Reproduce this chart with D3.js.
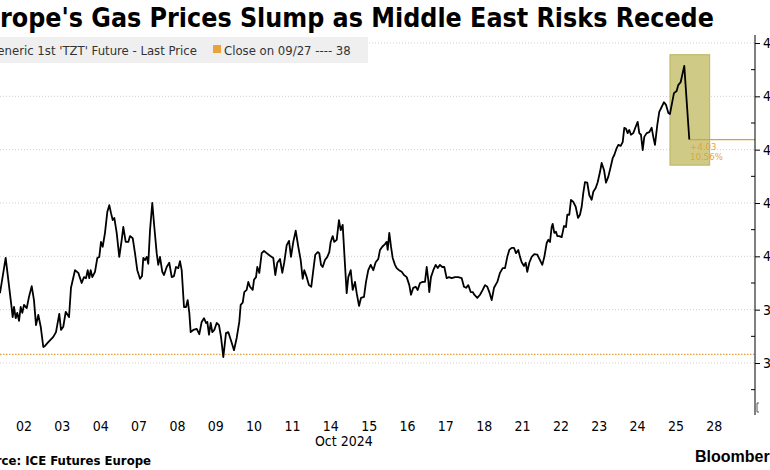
<!DOCTYPE html>
<html><head><meta charset="utf-8">
<script src="https://cdn.jsdelivr.net/npm/d3@7"></script>
<style>body{margin:0;background:#fff;} svg{display:block;}</style>
</head><body><svg id="c" width="770" height="470"></svg>
<script>
const titleText = "Europe's Gas Prices Slump as Middle East Risks Recede";
const seriesName = "Generic 1st 'TZT' Future - Last Price";
const closeLabel = "Close on 09/27 ---- 38";
const sourceText = "Source: ICE Futures Europe";
const brandText = "Bloomberg";
const dayLabels = ["02","03","04","07","08","09","10","11","14","15","16","17","18","21","22","23","24","25","28"];
const monthLabel = "Oct 2024";
const yTickValues = [38,39,40,41,42,43,44];
const yMinorValues = [37.5,38.5,39.5,40.5,41.5,42.5,43.5];
const closePrice = 38.16;
const lastPrice = 42.19;
const changeAbs = "+4.03";
const changePct = "10.56%";
const boxT = [16.844, 17.879];
const boxP = [41.71, 43.78];

// time in trading days (0 = Oct 02 label, 18 = Oct 28 label), price EUR/MWh
const times = [-0.626,-0.478,-0.321,-0.295,-0.261,-0.216,-0.175,-0.130,-0.086,-0.044,0.000,0.071,0.130,0.201,0.260,0.313,0.373,0.436,0.503,0.547,0.633,0.764,0.834,0.920,0.965,1.024,1.088,1.174,1.225,1.330,1.416,1.504,1.564,1.617,1.661,1.703,1.739,1.781,1.851,1.912,1.963,2.008,2.052,2.112,2.172,2.224,2.269,2.313,2.355,2.417,2.484,2.548,2.589,2.652,2.720,2.764,2.835,2.894,2.954,3.025,3.077,3.111,3.155,3.200,3.241,3.286,3.345,3.398,3.460,3.501,3.546,3.606,3.651,3.721,3.788,3.852,3.911,3.963,4.024,4.067,4.112,4.172,4.225,4.268,4.311,4.346,4.415,4.504,4.571,4.633,4.694,4.746,4.780,4.824,4.868,4.910,4.962,5.025,5.084,5.137,5.197,5.267,5.327,5.416,5.476,5.546,5.614,5.650,5.703,5.744,5.806,5.849,5.893,5.964,5.997,6.050,6.083,6.136,6.198,6.258,6.329,6.415,6.500,6.552,6.605,6.675,6.735,6.787,6.850,6.910,6.962,7.022,7.085,7.152,7.215,7.267,7.309,7.372,7.431,7.491,7.544,7.595,7.658,7.700,7.745,7.789,7.848,7.909,7.961,7.997,8.049,8.091,8.154,8.213,8.258,8.310,8.352,8.414,8.456,8.519,8.571,8.631,8.675,8.736,8.787,8.865,8.918,8.977,9.040,9.108,9.170,9.238,9.283,9.342,9.413,9.457,9.484,9.525,9.570,9.614,9.674,9.718,9.779,9.849,9.908,9.979,10.047,10.091,10.150,10.214,10.266,10.326,10.396,10.456,10.501,10.542,10.568,10.612,10.673,10.735,10.788,10.847,10.907,10.960,11.022,11.082,11.153,11.239,11.324,11.413,11.473,11.526,11.585,11.648,11.701,11.742,11.820,11.891,11.961,12.021,12.081,12.133,12.195,12.256,12.342,12.412,12.482,12.543,12.602,12.654,12.717,12.777,12.829,12.889,12.933,12.978,13.037,13.082,13.123,13.176,13.238,13.306,13.385,13.455,13.515,13.568,13.630,13.671,13.716,13.759,13.786,13.828,13.872,13.906,13.958,14.021,14.081,14.133,14.167,14.219,14.263,14.323,14.386,14.446,14.497,14.542,14.584,14.628,14.688,14.740,14.802,14.845,14.907,14.959,15.019,15.063,15.124,15.175,15.235,15.299,15.350,15.392,15.455,15.497,15.559,15.611,15.653,15.698,15.741,15.783,15.827,15.887,15.950,16.002,16.044,16.088,16.133,16.174,16.237,16.305,16.367,16.409,16.453,16.513,16.565,16.627,16.688,16.740,16.800,16.844,16.889,16.948,17.018,17.060,17.124,17.176,17.217,17.348];
const prices = [39.31,39.97,39.03,38.86,39.05,38.84,38.94,38.79,39.05,38.94,39.09,39.03,39.24,39.44,39.18,38.71,38.90,38.68,38.30,38.32,38.39,38.49,38.58,38.92,38.62,38.68,38.96,38.86,39.41,39.74,39.69,39.50,39.61,39.59,39.74,39.59,39.74,39.61,39.71,39.97,39.99,40.27,40.18,40.44,40.83,40.96,40.81,40.68,40.72,40.44,39.99,40.31,40.55,40.27,40.27,40.38,40.34,40.06,39.74,39.58,39.63,39.97,39.93,39.99,39.86,40.49,41.00,40.55,40.06,39.84,39.99,39.71,39.65,39.80,39.88,39.61,39.63,39.80,39.78,39.91,39.74,39.05,39.05,39.18,38.94,38.58,38.62,38.64,38.54,38.77,38.84,38.75,38.77,38.53,38.75,38.58,38.62,38.75,38.71,38.49,38.11,38.56,38.58,38.38,38.24,38.47,38.77,39.09,39.13,39.33,39.37,39.52,39.43,39.37,39.56,39.61,39.80,39.69,40.06,40.10,40.06,40.01,39.97,39.65,39.88,39.95,39.69,39.89,40.21,40.29,39.99,40.27,40.48,40.18,39.93,39.58,39.74,39.61,39.46,39.43,39.74,40.03,40.08,40.06,39.84,39.80,39.93,39.99,40.08,40.27,40.38,40.27,40.31,40.68,40.49,40.59,40.06,39.31,39.61,39.74,39.37,39.52,39.31,39.07,39.22,39.24,39.52,39.74,39.84,39.74,39.89,39.95,40.12,40.18,40.23,40.27,40.12,40.44,40.18,39.97,39.84,39.78,39.74,39.71,39.65,39.61,39.46,39.28,39.41,39.43,39.37,39.50,39.52,39.52,39.80,39.56,39.33,39.61,39.74,39.84,39.78,39.84,39.80,39.80,39.59,39.61,39.59,39.61,39.61,39.59,39.43,39.41,39.46,39.33,39.33,39.28,39.22,39.28,39.37,39.46,39.43,39.33,39.18,39.41,39.52,39.69,39.78,39.78,39.99,40.12,40.16,40.16,40.06,40.12,39.99,39.89,39.82,39.88,39.71,39.88,39.99,40.04,40.03,39.93,39.84,39.99,40.25,40.31,40.27,40.55,40.61,40.44,40.46,40.38,40.38,40.36,40.57,40.55,40.78,40.78,41.06,41.02,40.93,40.72,40.78,40.93,41.19,41.39,41.38,41.15,41.06,41.21,41.28,41.39,41.58,41.75,41.62,41.38,41.49,41.68,41.84,41.90,42.03,42.09,42.07,42.14,42.41,42.39,42.31,42.37,42.28,42.31,42.43,42.52,42.31,42.28,41.99,42.24,42.31,42.33,42.41,42.24,42.09,42.46,42.71,42.80,42.89,42.84,42.69,42.67,42.84,43.06,43.10,43.21,43.27,43.44,43.57,42.19];

const data = times.map((t,i)=>({t, p: prices[i]}));

const svg = d3.select("#c");
const axisX = 755;
const dayPx = 38.35, firstLabelX = 24;
const x = d3.scaleLinear().domain([-firstLabelX/dayPx, (axisX-firstLabelX)/dayPx]).range([0, axisX]);
const y = d3.scaleLinear().domain([38, 44]).range([363, 43]);

const condensed = "'DejaVu Sans Condensed','Liberation Sans Narrow','DejaVu Sans',sans-serif";
const orange = "#e8a33a";

// gridlines
svg.append("g").selectAll("line").data(yTickValues).join("line")
  .attr("x1", 0).attr("x2", axisX).attr("y1", d=>y(d)).attr("y2", d=>y(d))
  .attr("stroke", "#cfcfcf").attr("stroke-width", 1).attr("stroke-dasharray", "1,2");

// close reference line
svg.append("line").attr("x1", 0).attr("x2", axisX)
  .attr("y1", y(closePrice)).attr("y2", y(closePrice))
  .attr("stroke", orange).attr("stroke-width", 1.2).attr("stroke-dasharray", "1.5,1.5");

// highlight box
svg.append("rect")
  .attr("x", x(boxT[0])).attr("width", x(boxT[1]) - x(boxT[0]))
  .attr("y", y(boxP[1])).attr("height", y(boxP[0]) - y(boxP[1]))
  .attr("fill", "#cfca86").attr("stroke", "#b8b35a").attr("stroke-width", 1);

// last price horizontal line
const last = data[data.length-1];
svg.append("line").attr("x1", x(last.t)).attr("x2", axisX)
  .attr("y1", y(lastPrice)).attr("y2", y(lastPrice))
  .attr("stroke", "#e0a030").attr("stroke-width", 1.2);

// change annotation
svg.append("text").attr("x", x(last.t)+1).attr("y", y(lastPrice)+10)
  .attr("font-family", condensed).attr("font-size", 9.5).attr("fill", orange).text(changeAbs);
svg.append("text").attr("x", x(last.t)+1).attr("y", y(lastPrice)+20)
  .attr("font-family", condensed).attr("font-size", 9.5).attr("fill", orange).text(changePct);

// price line
svg.append("path").datum(data)
  .attr("d", d3.line().x(d=>x(d.t)).y(d=>y(d.p)))
  .attr("fill", "none").attr("stroke", "#000").attr("stroke-width", 1.8)
  .attr("stroke-linejoin", "round");

// right axis
const yAxis = d3.axisRight(y).tickValues(yTickValues).tickSize(5).tickPadding(3).tickFormat(d3.format("d"));
const ga = svg.append("g").attr("transform", `translate(${axisX},0)`).call(yAxis);
ga.select(".domain").remove();
ga.selectAll("text").attr("font-family", condensed).attr("font-size", 14).attr("fill", "#000");
ga.selectAll("line").attr("stroke", "#000");
svg.append("line").attr("x1", axisX).attr("x2", axisX).attr("y1", 35).attr("y2", 415)
  .attr("stroke", "#000").attr("stroke-width", 1);
svg.append("g").selectAll("line").data(yMinorValues).join("line")
  .attr("x1", axisX-4).attr("x2", axisX).attr("y1", d=>y(d)).attr("y2", d=>y(d))
  .attr("stroke", "#000");
svg.append("path").attr("d", `M${axisX+4},403 L${axisX+2},403 L${axisX+2},412 L${axisX+4},412`)
  .attr("fill","none").attr("stroke","#555").attr("stroke-width",1);

// x labels
svg.append("g").selectAll("text").data(dayLabels).join("text")
  .attr("x", (d,i)=>x(i)).attr("y", 431).attr("text-anchor", "middle")
  .attr("font-family", condensed).attr("font-size", 14).attr("fill", "#000").text(d=>d);
svg.append("text").attr("x", x(8.34)).attr("y", 446).attr("text-anchor", "middle")
  .attr("font-family", condensed).attr("font-size", 14).attr("fill", "#000").text(monthLabel);

// title fit so that visible part spans 0..714
const title = svg.append("text").attr("y", 27).attr("font-family", condensed)
  .attr("font-weight", "bold").attr("font-size", 24).attr("fill", "#000").text(titleText);
{
  const node = title.node();
  const full = node.getComputedTextLength();
  const cut = node.getSubStringLength(0, 2);
  const k = 714 / (full - cut);
  title.attr("font-size", 24*k).attr("x", -cut*k);
}

// legend
svg.append("rect").attr("x", 0).attr("y", 37).attr("width", 368).attr("height", 26).attr("fill", "#efefef");
svg.append("text").attr("x", 197).attr("y", 55).attr("text-anchor", "end")
  .attr("font-family", condensed).attr("font-size", 13).attr("fill", "#333").text(seriesName);
svg.append("rect").attr("x", 213).attr("y", 45).attr("width", 8).attr("height", 8).attr("fill", orange);
svg.append("text").attr("x", 224).attr("y", 55)
  .attr("font-family", condensed).attr("font-size", 13).attr("fill", "#333").text(closeLabel);

// footer
svg.append("text").attr("x", 151).attr("y", 465).attr("text-anchor", "end")
  .attr("font-family", condensed).attr("font-weight", "bold").attr("font-size", 13).attr("fill", "#000").text(sourceText);
svg.append("text").attr("x", 695).attr("y", 462)
  .attr("font-family", "'Liberation Sans','Arial',sans-serif").attr("font-weight", "bold").attr("font-size", 16).attr("fill", "#000").text(brandText);
</script></body></html>
